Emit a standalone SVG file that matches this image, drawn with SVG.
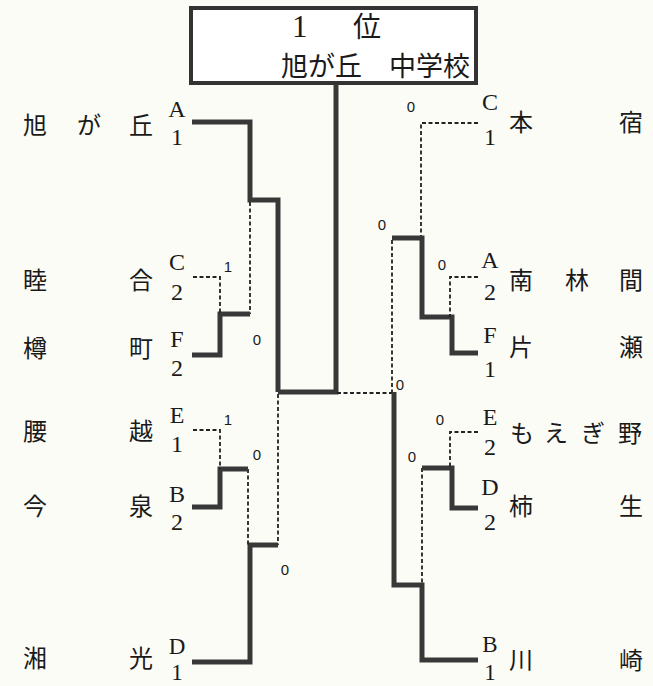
<svg xmlns="http://www.w3.org/2000/svg" width="653" height="686" viewBox="0 0 653 686">
<style>
.th{fill:none;stroke:#383838;stroke-width:5;stroke-linejoin:miter;stroke-linecap:butt}
.ds{fill:none;stroke:#222;stroke-width:1.8;stroke-dasharray:4 2.5}
.lt{font-family:"Liberation Serif","DejaVu Serif",serif;font-size:24px;fill:#1a1a1a;text-anchor:middle}
.lb{font-family:"Liberation Serif","DejaVu Serif",serif;font-size:23px;fill:#1a1a1a;text-anchor:middle}
.nm{font-family:"Noto Sans CJK JP","Noto Sans CJK SC",sans-serif;font-size:24px;fill:#1a1a1a;text-anchor:middle}
.sc{font-family:"Liberation Sans","DejaVu Sans",sans-serif;font-size:15px;fill:#1a1a1a;text-anchor:middle}
</style>
<rect width="653" height="686" fill="#fcfcf7"/>
<g id="champion">
<rect x="191" y="8" width="285" height="75" fill="#fff" stroke="#333" stroke-width="4"/>
<text y="37" style="font-family:'Liberation Serif',serif;font-size:31px;fill:#1a1a1a">
<tspan x="292">1</tspan> <tspan x="353" style="font-family:'Noto Sans CJK JP',sans-serif;font-size:28px">位</tspan></text>
<text x="281" y="76" style="font-family:'Noto Sans CJK JP',sans-serif;font-size:27px;fill:#1a1a1a">旭が丘　中学校</text>
</g>
<g id="connectors">
<path class="th" d="M336 84 V392 H278"/>
<path class="ds" d="M337 393 H392"/>
<path class="th" d="M192 122 H250 V200 H278 V392"/>
<path class="ds" d="M250 202 V314"/>
<path class="th" d="M192 355 H220 V314 H250"/>
<path class="ds" d="M193 277 H220 V314"/>
<path class="ds" d="M278 394 V545"/>
<path class="th" d="M192 662 H250 V545 H278"/>
<path class="ds" d="M248 469 V545"/>
<path class="th" d="M192 507 H220 V469 H248"/>
<path class="ds" d="M193 430 H220 V469"/>
<path class="ds" d="M478 123 H421 V238"/>
<path class="th" d="M478 353 H452 V317 H422 V238 H392"/>
<path class="ds" d="M478 277 H450 V317"/>
<path class="ds" d="M392 240 V392"/>
<path class="th" d="M478 660 H422 V585 H394 V392"/>
<path class="ds" d="M422 468 V585"/>
<path class="th" d="M478 508 H452 V468 H422"/>
<path class="ds" d="M478 432 H450 V468"/>
</g>
<g id="scores">
<text class="sc" x="228" y="272">1</text>
<text class="sc" x="257" y="345">0</text>
<text class="sc" x="228" y="425">1</text>
<text class="sc" x="257" y="460">0</text>
<text class="sc" x="285" y="575">0</text>
<text class="sc" x="411" y="112">0</text>
<text class="sc" x="382" y="230">0</text>
<text class="sc" x="442" y="270">0</text>
<text class="sc" x="400" y="390">0</text>
<text class="sc" x="440" y="425">0</text>
<text class="sc" x="412" y="462">0</text>
</g>
<g id="team-asahigaoka"><text class="nm" x="35 89 141" y="134">旭が丘</text><text class="lt" x="177" y="117">A</text><text class="lt" x="177" y="145">1</text></g>
<g id="team-mutsuai"><text class="nm" x="35 141" y="289">睦合</text><text class="lt" x="177" y="270">C</text><text class="lt" x="177" y="300">2</text></g>
<g id="team-tarumachi"><text class="nm" x="35 141" y="357">樽町</text><text class="lt" x="177" y="347">F</text><text class="lt" x="177" y="376">2</text></g>
<g id="team-koshigoe"><text class="nm" x="35 141" y="440">腰越</text><text class="lt" x="177" y="423">E</text><text class="lt" x="177" y="452">1</text></g>
<g id="team-imaizumi"><text class="nm" x="35 141" y="515">今泉</text><text class="lt" x="177" y="502">B</text><text class="lt" x="177" y="530">2</text></g>
<g id="team-shonan"><text class="nm" x="35 141" y="667">湘光</text><text class="lb" x="177" y="654">D</text><text class="lb" x="177" y="680">1</text></g>
<g id="team-honjuku"><text class="nm" x="521 631" y="131">本宿</text><text class="lt" x="490" y="110">C</text><text class="lt" x="490" y="145">1</text></g>
<g id="team-minamirinkan"><text class="nm" x="521 577 631" y="289">南林間</text><text class="lt" x="490" y="268">A</text><text class="lt" x="490" y="300">2</text></g>
<g id="team-katase"><text class="nm" x="521 631" y="356">片瀬</text><text class="lt" x="490" y="343">F</text><text class="lt" x="490" y="377">1</text></g>
<g id="team-moegino"><text class="nm" x="522 556 593 630" y="442">もえぎ野</text><text class="lt" x="490" y="425">E</text><text class="lt" x="490" y="455">2</text></g>
<g id="team-kakio"><text class="nm" x="521 631" y="515">柿生</text><text class="lt" x="490" y="495">D</text><text class="lt" x="490" y="530">2</text></g>
<g id="team-kawasaki"><text class="nm" x="521 631" y="669">川崎</text><text class="lb" x="490" y="652">B</text><text class="lb" x="490" y="680">1</text></g>
</svg>
